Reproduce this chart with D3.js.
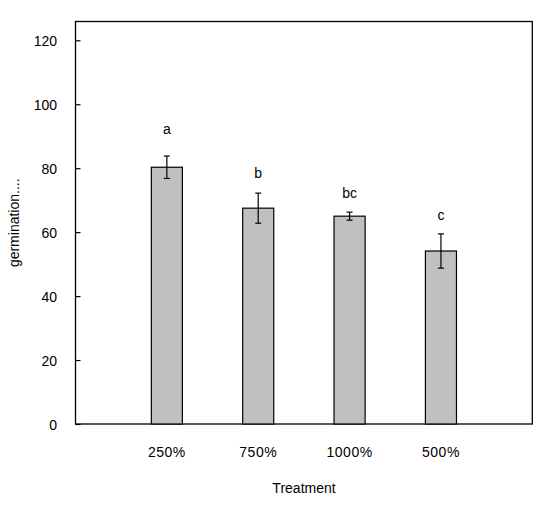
<!DOCTYPE html>
<html>
<head>
<meta charset="utf-8">
<script src="https://cdn.jsdelivr.net/npm/d3@7"></script>
<style>
  body { margin: 0; background: #fff; }
  text { font-family: Arial, "Liberation Sans", sans-serif; fill: #000; }
</style>
</head>
<body>
<div id="chart"></div>
<script>
// treatments and germination means with error
const treatments = ["250%", "750%", "1000%", "500%"];
const germination = [80.3, 67.5, 65.0, 54.1];
const errors = [3.5, 4.7, 1.25, 5.35];
const letters = ["a", "b", "bc", "c"];
const letterY = [90.7, 77.0, 70.6, 63.8]; // baseline height of the letter labels
const yTicks = [0, 20, 40, 60, 80, 100, 120];

const width = 550,
      height = 511,
      margin = { top: 21.5, right: 17.7, bottom: 87, left: 75.5 };

const svg = d3.select("#chart")
    .append("svg")
    .attr("width", width)
    .attr("height", height);

const x = d3.scaleBand()
    .domain(treatments)
    .range([margin.left, width - margin.right])
    .paddingInner(0.66)
    .paddingOuter(0.83);

const y = d3.scaleLinear()
    .domain([0, 120])
    .range([424, 40.3]);

// frame
svg.append("rect")
    .attr("x", margin.left)
    .attr("y", margin.top)
    .attr("width", width - margin.right - margin.left)
    .attr("height", y(0) - margin.top)
    .attr("fill", "none")
    .attr("stroke", "#000")
    .attr("stroke-width", 1.3);

// y axis, ticks pointing inward
const yAxis = svg.append("g")
    .attr("transform", `translate(${margin.left},0)`)
    .call(d3.axisRight(y).tickValues(yTicks).tickSize(5).tickFormat(d3.format("d")));
yAxis.select(".domain").remove();
yAxis.selectAll(".tick line").attr("stroke", "#000").attr("stroke-width", 1.2);
yAxis.selectAll(".tick text")
    .attr("x", -18.5)
    .attr("dy", "0.36em")
    .attr("text-anchor", "end")
    .style("font-size", "14px");

// x labels
svg.append("g")
    .selectAll("text")
    .data(treatments)
    .join("text")
    .attr("x", d => x(d) + x.bandwidth() / 2)
    .attr("y", 457)
    .attr("text-anchor", "middle")
    .style("font-size", "14px")
    .style("letter-spacing", "0.5px")
    .text(d => d);

// bars
svg.append("g")
    .selectAll("rect")
    .data(treatments)
    .join("rect")
    .attr("x", d => x(d))
    .attr("width", x.bandwidth())
    .attr("y", (d, i) => y(germination[i]))
    .attr("height", (d, i) => y(0) - y(germination[i]))
    .attr("fill", "#c0c0c0")
    .attr("stroke", "#000")
    .attr("stroke-width", 1.2);

// error bars
const err = svg.append("g")
    .attr("stroke", "#000")
    .attr("stroke-width", 1.2)
    .selectAll("g")
    .data(treatments)
    .join("g")
    .attr("transform", d => `translate(${x(d) + x.bandwidth() / 2},0)`);

err.append("line")
    .attr("y1", (d, i) => y(germination[i] + errors[i]))
    .attr("y2", (d, i) => y(germination[i] - errors[i]));
err.append("line")
    .attr("x1", -3).attr("x2", 3)
    .attr("y1", (d, i) => y(germination[i] + errors[i]))
    .attr("y2", (d, i) => y(germination[i] + errors[i]));
err.append("line")
    .attr("x1", -3).attr("x2", 3)
    .attr("y1", (d, i) => y(germination[i] - errors[i]))
    .attr("y2", (d, i) => y(germination[i] - errors[i]));

// significance letters
svg.append("g")
    .selectAll("text")
    .data(letters)
    .join("text")
    .attr("x", (d, i) => x(treatments[i]) + x.bandwidth() / 2)
    .attr("y", (d, i) => y(letterY[i]))
    .attr("text-anchor", "middle")
    .style("font-size", "14px")
    .text(d => d);

// axis titles
svg.append("text")
    .attr("x", 304)
    .attr("y", 493)
    .attr("text-anchor", "middle")
    .style("font-size", "14px")
    .text("Treatment");

svg.append("text")
    .attr("transform", `translate(19.3,${(margin.top + y(0)) / 2}) rotate(-90)`)
    .attr("text-anchor", "middle")
    .style("font-size", "14px")
    .text("germination....");
</script>
</body>
</html>
